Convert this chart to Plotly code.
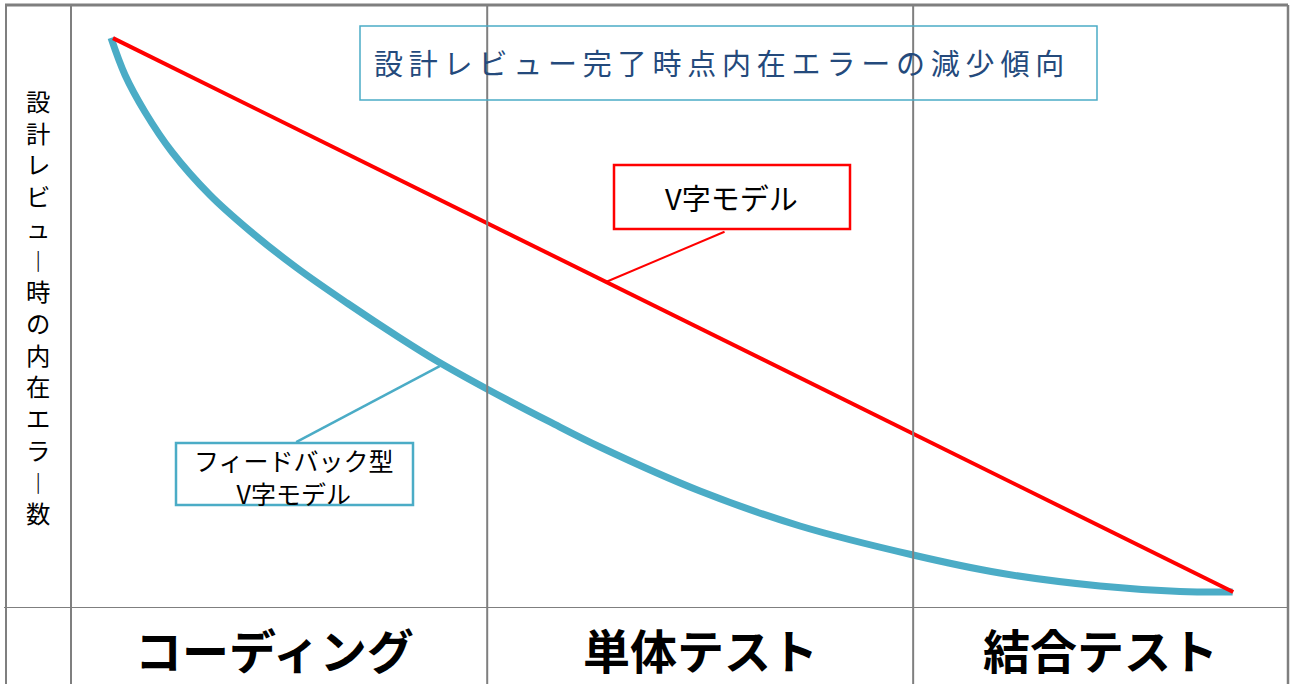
import plotly.graph_objects as go

W, H = 1292, 684
FONT = "Noto Sans CJK JP"

# ---- data (x: progress 0-100 across the three phases, y: latent error count 0-100)
phases = ["コーディング", "単体テスト", "結合テスト"]
phase_edges = [0, 34.2, 69.2, 100]

v_model_x = [3.45, 95.5]
v_model_y = [94.5, 2.65]

fb_model_x = [3.29, 4.44, 6.08, 8.30, 11.42, 14.71, 18.57, 22.68, 27.03, 30.07, 34.18,
              39.36, 43.47, 51.68, 59.90, 69.19, 76.33, 84.55, 91.13, 95.45]
fb_model_y = [94.53, 88.39, 82.26, 75.62, 68.49, 62.52, 56.38, 50.58, 44.78, 40.96, 36.32,
              30.85, 26.70, 19.40, 13.60, 8.79, 5.80, 3.65, 2.74, 2.65]

title_text = "設計レビュー完了時点内在エラーの減少傾向"
y_title = "設計レビュー時の内在エラー数"
v_label = "V字モデル"
fb_label = "フィードバック型<br>V字モデル"

# pointer lines (label -> curve), in data units
v_ptr = ([53.7, 44.0], [62.4, 54.1])
fb_ptr = ([18.5, 30.3], [27.5, 40.1])

GRID = "#7f7f7f"
BLUE = "#4bacc6"
RED = "#ff0000"

def px(x):
    return x / W

def py(y):
    return 1 - y / H

fig = go.Figure()
fig.add_trace(go.Scatter(x=fb_model_x, y=fb_model_y, mode="lines",
                         line=dict(color=BLUE, width=7, shape="spline", smoothing=1.0),
                         hoverinfo="skip", showlegend=False))
fig.add_trace(go.Scatter(x=v_model_x, y=v_model_y, mode="lines",
                         line=dict(color=RED, width=4),
                         hoverinfo="skip", showlegend=False))
fig.add_trace(go.Scatter(x=v_ptr[0], y=v_ptr[1], mode="lines",
                         line=dict(color=RED, width=2), hoverinfo="skip", showlegend=False))
fig.add_trace(go.Scatter(x=fb_ptr[0], y=fb_ptr[1], mode="lines",
                         line=dict(color=BLUE, width=2.5), hoverinfo="skip", showlegend=False))

shapes = []
# outer frame and grid
shapes.append(dict(type="line", xref="paper", yref="paper", x0=px(5), x1=px(1288), y0=py(5), y1=py(5),
                   line=dict(color=GRID, width=3)))
shapes.append(dict(type="line", xref="paper", yref="paper", x0=px(6), x1=px(6), y0=py(5), y1=0,
                   line=dict(color=GRID, width=2)))
shapes.append(dict(type="line", xref="paper", yref="paper", x0=px(1288), x1=px(1288), y0=py(5), y1=0,
                   line=dict(color=GRID, width=2.5)))
shapes.append(dict(type="line", xref="paper", yref="y", x0=px(4), x1=px(1288), y0=0, y1=0,
                   line=dict(color=GRID, width=2)))
shapes.append(dict(type="line", xref="paper", yref="paper", x0=px(71), x1=px(71), y0=py(5), y1=0,
                   line=dict(color=GRID, width=2)))
for e in phase_edges[1:-1]:
    shapes.append(dict(type="line", xref="x", yref="paper", x0=e, x1=e, y0=py(5), y1=0,
                       line=dict(color=GRID, width=2)))
# label boxes
shapes.append(dict(type="rect", xref="paper", yref="paper", x0=px(360), x1=px(1097), y0=py(26), y1=py(100),
                   line=dict(color=BLUE, width=1.5), fillcolor="rgba(0,0,0,0)"))
shapes.append(dict(type="rect", xref="paper", yref="paper", x0=px(614), x1=px(850), y0=py(165), y1=py(229),
                   line=dict(color=RED, width=2.5), fillcolor="white"))
shapes.append(dict(type="rect", xref="paper", yref="paper", x0=px(176), x1=px(413), y0=py(443), y1=py(505),
                   line=dict(color=BLUE, width=2.5), fillcolor="white"))

annotations = []
annotations.append(dict(text="\u2009".join(title_text), xref="paper", yref="paper",
                        x=px(719), y=py(62), showarrow=False, xanchor="center", yanchor="middle",
                        font=dict(family=FONT, size=29, color="#244a7c")))
annotations.append(dict(text=v_label, xref="paper", yref="paper", x=px(731), y=py(197),
                        showarrow=False, xanchor="center", yanchor="middle",
                        font=dict(family=FONT, size=29, color="black")))
annotations.append(dict(text=fb_label, xref="paper", yref="paper", x=px(294), y=py(476),
                        showarrow=False, xanchor="center", yanchor="middle",
                        font=dict(family=FONT, size=25, color="black")))

# vertical (stacked) axis title as one multi-line text block
vert_chars = ["\ufe31" if ch == "ー" else ch for ch in y_title]
annotations.append(dict(text="<br>".join(vert_chars), xref="paper", yref="paper", x=px(38), y=py(306),
                        showarrow=False, xanchor="center", yanchor="middle",
                        font=dict(family=FONT, size=24.4, color="black")))

for i, name in enumerate(phases):
    mid = (phase_edges[i] + phase_edges[i + 1]) / 2
    annotations.append(dict(text="<b>" + name + "</b>", xref="x", yref="paper", x=mid, y=py(648),
                            showarrow=False, xanchor="center", yanchor="middle",
                            xshift=-5 if i == 0 else 0,
                            font=dict(family=FONT, size=47, color="black")))

fig.update_layout(
    width=W, height=H, margin=dict(l=0, r=0, t=0, b=0),
    paper_bgcolor="white", plot_bgcolor="white",
    xaxis=dict(domain=[px(71), px(1288)], range=[0, 100], visible=False, fixedrange=True),
    yaxis=dict(domain=[py(608), py(5)], range=[0, 100], visible=False, fixedrange=True),
    shapes=shapes, annotations=annotations, showlegend=False,
)
fig.write_html("out.html")
